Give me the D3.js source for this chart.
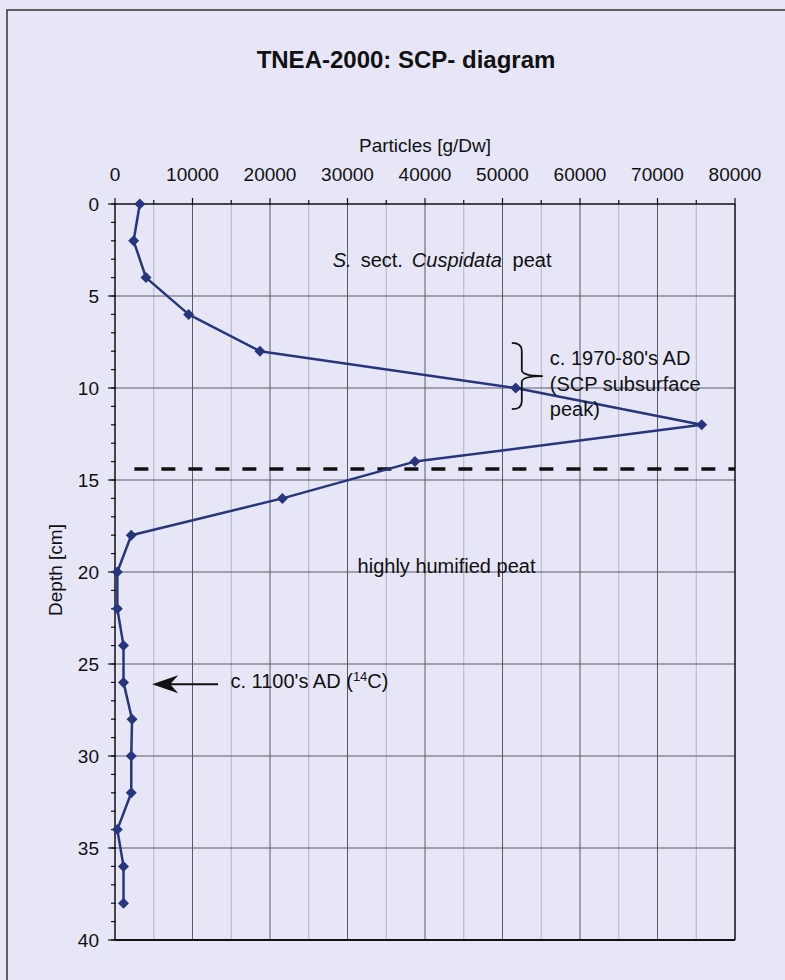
<!DOCTYPE html>
<html>
<head>
<meta charset="utf-8">
<script src="https://cdn.jsdelivr.net/npm/d3@7"></script>
<style>
  html, body { margin: 0; padding: 0; background: #e6e6f7; }
  svg { display: block; }
  text { font-family: "Liberation Sans", Arial, sans-serif; fill: #111; }
</style>
</head>
<body>
<svg id="chart" width="785" height="980"></svg>
<script>
// ---- data ----
const depths    = [0, 2, 4, 6, 8, 10, 12, 14, 16, 18, 20, 22, 24, 26, 28, 30, 32, 34, 36, 38];
const particles = [3200, 2400, 4000, 9500, 18700, 51700, 75700, 38700, 21600, 2100,
                   300, 300, 1100, 1100, 2200, 2100, 2100, 300, 1100, 1100];
const xTicks      = [0, 10000, 20000, 30000, 40000, 50000, 60000, 70000, 80000];
const xMinorTicks = [5000, 15000, 25000, 35000, 45000, 55000, 65000, 75000];
const yTicks      = [0, 5, 10, 15, 20, 25, 30, 35, 40];
const yMinorTicks = d3.range(0, 41, 1);
const boundaryDepth = 14.4;
const boundaryRange = [2500, 80000];

const title  = "TNEA-2000: SCP- diagram";
const xTitle = "Particles [g/Dw]";
const yTitle = "Depth [cm]";

// ---- layout ----
const svg = d3.select("#chart");
const x = d3.scaleLinear().domain([0, 80000]).range([115, 735]);
const y = d3.scaleLinear().domain([0, 40]).range([204, 940]);
const lineColor = "#27357d";

// outer frame
svg.append("rect").attr("x", 7).attr("y", 10).attr("width", 800).attr("height", 1000)
  .attr("fill", "#e6e6f7").attr("stroke", "#333").attr("stroke-width", 1.5);

// title
svg.append("text").attr("x", 406).attr("y", 68).attr("text-anchor", "middle")
  .attr("font-size", 24).attr("font-weight", "bold").text(title);

// gridlines
const g = svg.append("g");
g.selectAll(".vminor").data(xMinorTicks).join("line")
  .attr("x1", d => x(d)).attr("x2", d => x(d)).attr("y1", y(0)).attr("y2", y(40))
  .attr("stroke", "#a4a4b4").attr("stroke-width", 0.8);
g.selectAll(".vmajor").data(xTicks.slice(1, -1)).join("line")
  .attr("x1", d => x(d)).attr("x2", d => x(d)).attr("y1", y(0)).attr("y2", y(40))
  .attr("stroke", "#5a5a66").attr("stroke-width", 1);
g.selectAll(".hmajor").data(yTicks.slice(1, -1)).join("line")
  .attr("x1", x(0)).attr("x2", x(80000)).attr("y1", d => y(d)).attr("y2", d => y(d))
  .attr("stroke", "#5a5a66").attr("stroke-width", 1);

// plot frame right / bottom
svg.append("line").attr("x1", x(80000)).attr("x2", x(80000)).attr("y1", y(0)).attr("y2", y(40))
  .attr("stroke", "#111").attr("stroke-width", 1.5);
svg.append("line").attr("x1", x(0)).attr("x2", x(80000)).attr("y1", y(40)).attr("y2", y(40))
  .attr("stroke", "#111").attr("stroke-width", 2);

// top axis
const xAxis = svg.append("g").attr("transform", `translate(0,${y(0)})`);
xAxis.append("line").attr("x1", x(0)).attr("x2", x(80000)).attr("y1", 0).attr("y2", 0)
  .attr("stroke", "#111").attr("stroke-width", 1.5);
xAxis.selectAll(".tmaj").data(xTicks).join("line")
  .attr("x1", d => x(d)).attr("x2", d => x(d)).attr("y1", -6).attr("y2", 1)
  .attr("stroke", "#111").attr("stroke-width", 1.2);
xAxis.selectAll(".tmin").data(xMinorTicks).join("line")
  .attr("x1", d => x(d)).attr("x2", d => x(d)).attr("y1", -4).attr("y2", 0)
  .attr("stroke", "#111").attr("stroke-width", 1.2);
xAxis.selectAll(".tl").data(xTicks).join("text")
  .attr("x", d => x(d)).attr("y", -23).attr("text-anchor", "middle")
  .attr("font-size", 19).text(d => d);
svg.append("text").attr("x", (x(0) + x(80000)) / 2).attr("y", 152).attr("text-anchor", "middle")
  .attr("font-size", 19).text(xTitle);

// left axis
const yAxis = svg.append("g").attr("transform", `translate(${x(0)},0)`);
yAxis.append("line").attr("x1", 0).attr("x2", 0).attr("y1", y(0)).attr("y2", y(40))
  .attr("stroke", "#111").attr("stroke-width", 1.5);
yAxis.selectAll(".ymin").data(yMinorTicks).join("line")
  .attr("x1", -4).attr("x2", 1).attr("y1", d => y(d)).attr("y2", d => y(d))
  .attr("stroke", "#111").attr("stroke-width", 1.2);
yAxis.selectAll(".ymaj").data(yTicks).join("line")
  .attr("x1", -7).attr("x2", 1).attr("y1", d => y(d)).attr("y2", d => y(d))
  .attr("stroke", "#111").attr("stroke-width", 1.2);
yAxis.selectAll(".yl").data(yTicks).join("text")
  .attr("x", -16).attr("y", d => y(d)).attr("dy", "0.36em").attr("text-anchor", "end")
  .attr("font-size", 19).text(d => d);
svg.append("text").attr("transform", "translate(62,570) rotate(-90)").attr("text-anchor", "middle")
  .attr("font-size", 19).text(yTitle);

// boundary dashed line
svg.append("line").attr("x1", x(boundaryRange[0])).attr("x2", x(boundaryRange[1]))
  .attr("y1", y(boundaryDepth)).attr("y2", y(boundaryDepth))
  .attr("stroke", "#111").attr("stroke-width", 3.5).attr("stroke-dasharray", "14 13");

// data line
const pts = depths.map((d, i) => ({ d, v: particles[i] }));
svg.append("path").datum(pts)
  .attr("d", d3.line().x(p => x(p.v)).y(p => y(p.d)))
  .attr("fill", "none").attr("stroke", lineColor).attr("stroke-width", 2.5).attr("stroke-linejoin", "round");
svg.selectAll(".mk").data(pts).join("path")
  .attr("transform", p => `translate(${x(p.v)},${y(p.d)})`)
  .attr("d", "M0,-5.5 L5.5,0 L0,5.5 L-5.5,0 Z").attr("fill", lineColor);

// annotations
const t1 = svg.append("text").attr("y", y(3.42)).attr("font-size", 20);
t1.append("tspan").attr("x", x(28100)).attr("font-style", "italic").text("S.");
t1.append("tspan").attr("x", x(31700)).text("sect.");
t1.append("tspan").attr("x", x(38300)).attr("font-style", "italic").text("Cuspidata");
t1.append("tspan").attr("x", x(51300)).text("peat");

svg.append("text").attr("x", x(31300)).attr("y", y(20.05)).attr("font-size", 20).text("highly humified peat");

// brace
const bx = x(51200), bt = y(7.55), bb = y(11.15), bm = y(9.35), bw = x(55200);
svg.append("path")
  .attr("d", `M${bx},${bt} Q${bx + 10},${bt} ${bx + 10},${bt + 8} L${bx + 10},${bm - 6} Q${bx + 10},${bm} ${bw},${bm}
              Q${bx + 10},${bm} ${bx + 10},${bm + 6} L${bx + 10},${bb - 8} Q${bx + 10},${bb} ${bx},${bb}`)
  .attr("fill", "none").attr("stroke", "#111").attr("stroke-width", 1.8);
const t2 = svg.append("text").attr("font-size", 20);
["c. 1970-80's AD", "(SCP subsurface", "peak)"].forEach((s, i) => {
  t2.append("tspan").attr("x", x(56100)).attr("y", 365 + i * 25.5).text(s);
});

// arrow
const ay = y(26.1);
svg.append("line").attr("x1", x(13300)).attr("x2", x(5200)).attr("y1", ay).attr("y2", ay)
  .attr("stroke", "#111").attr("stroke-width", 1.8);
const ax = x(4800);
svg.append("path")
  .attr("d", `M${ax},${ay} L${ax + 26},${ay - 9} L${ax + 18},${ay} L${ax + 26},${ay + 9} Z`)
  .attr("fill", "#111");
const t3 = svg.append("text").attr("x", x(14900)).attr("y", 688).attr("font-size", 20);
t3.append("tspan").text("c. 1100's AD (");
t3.append("tspan").attr("font-size", 13).attr("dy", -7).text("14");
t3.append("tspan").attr("dy", 7).text("C)");
</script>
</body>
</html>
